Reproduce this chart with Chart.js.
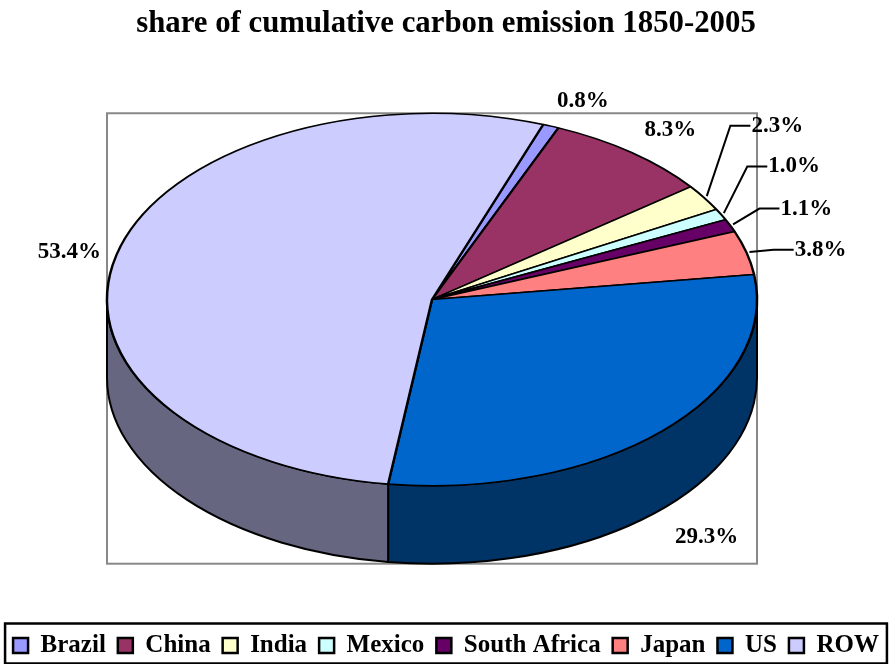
<!DOCTYPE html>
<html>
<head>
<meta charset="utf-8">
<script src="https://cdn.jsdelivr.net/npm/chart.js@4.4.0/dist/chart.umd.min.js"></script>
<style>
  html, body { margin: 0; padding: 0; background: #fff; }
  #wrap { width: 892px; height: 664px; }
</style>
</head>
<body>
<div id="wrap"><canvas id="chart" width="892" height="664"></canvas></div>
<script>
const categories = ["Brazil", "China", "India", "Mexico", "South Africa", "Japan", "US", "ROW"];
const shares = [0.8, 8.3, 2.3, 1.0, 1.1, 3.8, 29.3, 53.4];
const colors = ["#9999FF", "#993366", "#FFFFCC", "#CCFFFF", "#660066", "#FF8080", "#0066CC", "#CCCCFF"];
const pctLabels = shares.map(v => v.toFixed(1) + "%");

// where each % label sits, relative to the rim point at the middle of its slice
const labelShift = [[32, -25], [39, -22], [73, -72], [73, -48], [76, -17], [74, -3], [45, 106], [-47, -3]];
const leader = [false, false, true, true, true, true, false, false];

const TILT = 0.573;  // vertical squash of the top face
const DEPTH = 78;    // thickness of the pie
const FONT = "'Liberation Serif', 'Times New Roman', serif";

function darker(hex, f) {
  const n = parseInt(hex.slice(1), 16);
  const r = Math.round(((n >> 16) & 255) * f);
  const g = Math.round(((n >> 8) & 255) * f);
  const b = Math.round((n & 255) * f);
  return "rgb(" + r + "," + g + "," + b + ")";
}

const pie3d = {
  id: "pie3d",
  beforeDatasetsDraw(chart) {
    const ctx = chart.ctx;
    const arcs = chart.getDatasetMeta(0).data;
    const cx = arcs[0].x, cy = arcs[0].y, r = arcs[0].outerRadius;
    const ry = r * TILT;

    // grey frame of the plot area
    ctx.save();
    ctx.strokeStyle = "#888";
    ctx.lineWidth = 2;
    ctx.strokeRect(cx - r, cy - ry, 2 * r, 2 * ry + DEPTH);
    ctx.restore();

    // side walls, only the front half is visible
    ctx.save();
    ctx.lineWidth = 2;
    ctx.strokeStyle = "#000";
    ctx.lineJoin = "round";
    arcs.forEach((arc, i) => {
      for (let k = -1; k <= 1; k++) {
        const lo = Math.max(arc.startAngle, 2 * Math.PI * k);
        const hi = Math.min(arc.endAngle, 2 * Math.PI * k + Math.PI);
        if (hi <= lo) continue;
        ctx.beginPath();
        ctx.ellipse(cx, cy, r, ry, 0, lo, hi);
        ctx.ellipse(cx, cy + DEPTH, r, ry, 0, hi, lo, true);
        ctx.closePath();
        ctx.fillStyle = darker(colors[i], 0.5);
        ctx.fill();
        ctx.stroke();
      }
    });
    ctx.restore();

    // squash the top face
    ctx.save();
    ctx.translate(cx, cy);
    ctx.scale(1, TILT);
    ctx.translate(-cx, -cy);
  },
  afterDatasetsDraw(chart) {
    const ctx = chart.ctx;
    ctx.restore();

    const arcs = chart.getDatasetMeta(0).data;
    const cx = arcs[0].x, cy = arcs[0].y, r = arcs[0].outerRadius;
    const ry = r * TILT;

    ctx.save();
    ctx.font = "bold 23px " + FONT;
    ctx.fillStyle = "#000";
    ctx.strokeStyle = "#000";
    ctx.lineWidth = 2;
    ctx.textBaseline = "middle";
    ctx.textAlign = "center";
    arcs.forEach((arc, i) => {
      const mid = (arc.startAngle + arc.endAngle) / 2;
      const px = cx + r * Math.cos(mid);
      const py = cy + ry * Math.sin(mid);
      const lx = px + labelShift[i][0];
      const ly = py + labelShift[i][1];
      if (leader[i]) {
        const left = lx - ctx.measureText(pctLabels[i]).width / 2;
        ctx.beginPath();
        ctx.moveTo(px + 3 * Math.cos(mid), py + 3 * Math.sin(mid));
        ctx.lineTo(left - 21, ly);
        ctx.lineTo(left - 1, ly);
        ctx.stroke();
      }
      ctx.fillText(pctLabels[i], lx, ly);
    });
    ctx.restore();
  },
  afterDraw(chart) {
    // frame round the legend
    const hb = chart.legend.legendHitBoxes;
    if (!hb || !hb.length) return;
    const ctx = chart.ctx;
    const first = hb[0], last = hb[hb.length - 1];
    const midY = first.top + first.height / 2;
    ctx.save();
    ctx.strokeStyle = "#000";
    ctx.lineWidth = 2.5;
    ctx.strokeRect(first.left - 8, midY - 22, last.left + last.width + 16 - first.left, 40);
    ctx.restore();
  }
};

new Chart(document.getElementById("chart"), {
  type: "pie",
  data: {
    labels: categories,
    datasets: [{
      data: shares,
      backgroundColor: colors,
      borderColor: "#000",
      borderWidth: 2.5,
      clip: false
    }]
  },
  options: {
    responsive: false,
    animation: false,
    events: [],
    rotation: 20,
    radius: 325,
    layout: { padding: { left: 0, right: 0, top: 0, bottom: -4 } },
    plugins: {
      title: {
        display: true,
        text: "share of cumulative carbon emission 1850-2005",
        color: "#000",
        font: { family: FONT, size: 30.8, weight: "bold" },
        padding: { top: 6, bottom: 3 }
      },
      // empty strip on the right, keeps the pie a little left of centre
      subtitle: {
        display: true,
        text: "",
        position: "right",
        fullSize: false,
        font: { size: 10 },
        padding: { top: 8, bottom: 8 }
      },
      legend: {
        position: "bottom",
        title: { display: true, text: "", font: { size: 10 }, padding: { top: 0, bottom: 56 } },
        labels: {
          color: "#000",
          boxWidth: 15,
          boxHeight: 15,
          padding: 12,
          font: { family: FONT, size: 25, weight: "bold" }
        }
      },
      tooltip: { enabled: false }
    }
  },
  plugins: [pie3d]
});
</script>
</body>
</html>
